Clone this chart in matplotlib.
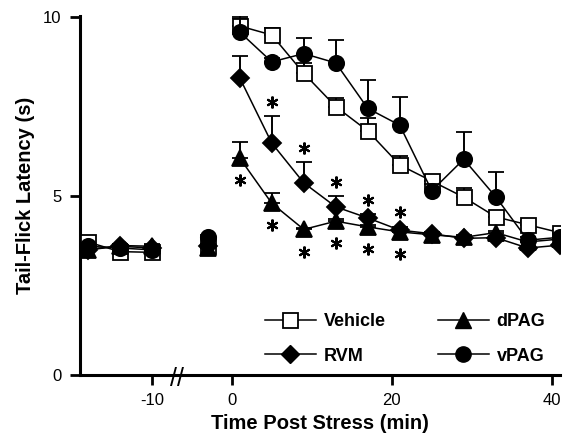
import matplotlib
matplotlib.use('Agg')
from matplotlib import pyplot as plt
from matplotlib import lines

plt.rcParams['font.family'] = ['Liberation Sans', 'DejaVu Sans']
plt.rcParams['axes.unicode_minus'] = False

# Time points (min); first three are baseline, -3 is the injection reading
times = [-18, -14, -10, -3, 1, 5, 9, 13, 17, 21, 25, 29, 33, 37, 41]

vehicle = [3.72, 3.45, 3.43, 3.60, 9.75, 9.50, 8.43, 7.50, 6.82, 5.87, 5.42, 4.97, 4.42, 4.20, 3.98]
vehicle_err = [0.05, 0.05, 0.05, 0.05, 0.28, 0.20, 0.30, 0.25, 0.35, 0.25, 0.16, 0.25, 0.10, 0.10, 0.08]

rvm = [3.50, 3.60, 3.55, 3.60, 8.30, 6.48, 5.37, 4.70, 4.39, 4.05, 3.95, 3.82, 3.84, 3.55, 3.63]
rvm_err = [0.05, 0.05, 0.05, 0.05, 0.60, 0.75, 0.58, 0.30, 0.10, 0.10, 0.05, 0.05, 0.05, 0.05, 0.05]

dpag = [3.50, 3.62, 3.60, 3.55, 6.06, 4.80, 4.07, 4.30, 4.14, 4.00, 3.92, 3.85, 3.98, 3.72, 3.80]
dpag_err = [0.05, 0.05, 0.05, 0.05, 0.45, 0.28, 0.05, 0.05, 0.05, 0.05, 0.05, 0.05, 0.05, 0.05, 0.05]

vpag = [3.60, 3.55, 3.50, 3.85, 9.58, 8.75, 8.98, 8.72, 7.45, 6.98, 5.15, 6.03, 4.98, 3.77, 3.85]
vpag_err = [0.05, 0.05, 0.05, 0.05, 0.40, 0.10, 0.45, 0.65, 0.80, 0.78, 0.20, 0.75, 0.68, 0.10, 0.10]

# significance markers (indices into times)
rvm_sig = [5, 6, 7, 8, 9]
dpag_sig = [4, 5, 6, 7, 8, 9]

segments = [(0, 3), (3, 4), (4, 15)]

fig = plt.figure(figsize=(5.7, 4.45), dpi=100)
ax = fig.add_axes([0.140, 0.157, 0.842, 0.807])

styles = [
    (vehicle, vehicle_err, 's', 'white', 10.8, 'Vehicle'),
    (rvm, rvm_err, 'D', 'black', 8.8, 'RVM'),
    (dpag, dpag_err, '^', 'black', 12, 'dPAG'),
    (vpag, vpag_err, 'o', 'black', 11, 'vPAG'),
]

for k, (vals, err, mk, fc, ms, name) in enumerate(styles):
    for a, b in segments:
        ax.errorbar(times[a:b], vals[a:b], yerr=[[0] * (b - a), err[a:b]],
                    color='black', lw=1.1, marker=mk, mfc=fc, mec='black',
                    mew=1.3, ms=ms, elinewidth=1.4, capsize=6, capthick=1.4,
                    zorder=3 + k)

# asterisks
ax.plot([times[i] for i in rvm_sig], [rvm[i] + rvm_err[i] + 0.4 for i in rvm_sig],
        linestyle='None', marker=(6, 2, 0), ms=8.5, mew=1.5, color='black', zorder=10)
ax.plot([times[i] for i in dpag_sig], [dpag[i] - 0.62 for i in dpag_sig],
        linestyle='None', marker=(6, 2, 0), ms=8.5, mew=1.5, color='black', zorder=10)

ax.set_xlim(-19, 41)
ax.set_ylim(0, 10.03)
ax.set_xticks([-10, 0, 20, 40])
ax.set_yticks([0, 5, 10])
ax.tick_params(axis='both', direction='out', length=7, width=2, labelsize=12, pad=6)
for side in ['top', 'right']:
    ax.spines[side].set_visible(False)
for side in ['left', 'bottom']:
    ax.spines[side].set_linewidth(2.2)

ax.set_xlabel('Time Post Stress (min)', fontsize=14.5, fontweight='bold', labelpad=4)
ax.set_ylabel('Tail-Flick Latency (s)', fontsize=14.5, fontweight='bold', labelpad=6)

# axis break mark
ax.text(-6.8, -0.012, '//', transform=ax.get_xaxis_transform(), ha='center', va='center',
        fontsize=18, clip_on=False)

handles = [
    lines.Line2D([], [], color='black', lw=1.1, marker='s', mfc='white', mec='black', mew=1.3, ms=10.8),
    lines.Line2D([], [], color='black', lw=1.1, marker='D', mfc='black', ms=8.8),
    lines.Line2D([], [], color='black', lw=1.1, marker='^', mfc='black', ms=12),
    lines.Line2D([], [], color='black', lw=1.1, marker='o', mfc='black', ms=11),
]
ax.legend(handles, ['Vehicle', 'RVM', 'dPAG', 'vPAG'], ncol=2, frameon=False,
          loc='upper left', bbox_to_anchor=(0.367, 0.197), borderpad=0,
          handlelength=2.8, handletextpad=0.45, columnspacing=2.9, labelspacing=0.95,
          prop={'size': 13, 'weight': 'bold'})

fig.savefig('out.png', dpi=100)
